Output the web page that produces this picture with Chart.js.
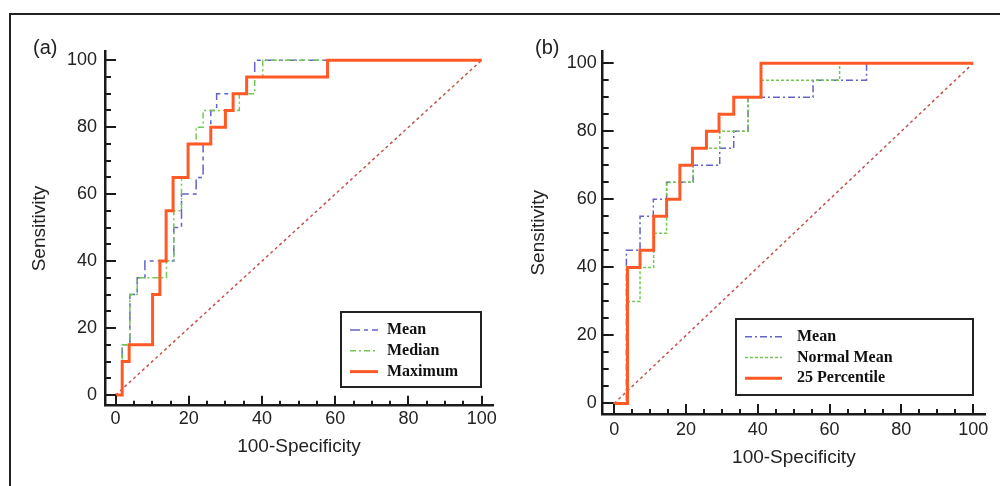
<!DOCTYPE html>
<html><head><meta charset="utf-8">
<script src="https://cdn.jsdelivr.net/npm/chart.js@4.4.0/dist/chart.umd.min.js"></script>
<style>
html,body{margin:0;padding:0;background:#fff;width:1000px;height:486px;overflow:hidden;}
#frame{position:absolute;left:9px;top:13px;width:1000px;height:500px;border-top:2.5px solid #222;border-left:2.5px solid #222;}
.panel{position:absolute;top:0;width:500px;height:486px;}
.tag{position:absolute;font:20px "Liberation Sans",Arial,sans-serif;line-height:20px;color:#222;}
</style></head><body>
<div id="frame"></div>
<div class="panel" style="left:0"><canvas id="ca" width="500" height="486" style="width:500px;height:486px"></canvas></div>
<div class="panel" style="left:500px"><canvas id="cb" width="500" height="486" style="width:500px;height:486px"></canvas></div>
<div class="tag" style="left:33px;top:37px">(a)</div>
<div class="tag" style="left:535px;top:37px">(b)</div>
<script>
// ---- tick labels ----
const majorTicks = [0, 20, 40, 60, 80, 100];
const minorTicks = [0,5,10,15,20,25,30,35,40,45,50,55,60,65,70,75,80,85,90,95,100];

// ---- panel (a): ROC step vertices (100-Specificity, Sensitivity) ----
const aMeanX   = [0,1.8,1.8,3.9,3.9,5.9,5.9,8,8,15.9,15.9,18,18,22,22,23.9,23.9,26,26,27.6,27.6,35.8,35.8,38,38,100];
const aMeanY   = [0,0,15,15,30,30,35,35,40,40,50,50,60,60,65,65,75,75,85,85,90,90,95,95,100,100];
const aMedianX = [0,1.8,1.8,3.9,3.9,5.9,5.9,13.9,13.9,15.9,15.9,18,18,19.8,19.8,22,22,23.9,23.9,33.8,33.8,38,38,40.2,40.2,100];
const aMedianY = [0,0,15,15,30,30,35,35,40,40,55,55,65,65,75,75,80,80,85,85,90,90,95,95,100,100];
const aMaxX    = [0,1.8,1.8,3.7,3.7,10.1,10.1,12.1,12.1,13.8,13.8,15.7,15.7,19.8,19.8,26,26,30,30,32.1,32.1,35.8,35.8,57.9,57.9,100];
const aMaxY    = [0,0,10,10,15,15,30,30,40,40,55,55,65,65,75,75,80,80,85,85,90,90,95,95,100,100];

// ---- panel (b) ----
const bMeanX   = [0,3.4,3.4,7.2,7.2,10.9,10.9,14.6,14.6,22,22,29.4,29.4,33.3,33.3,37.3,37.3,55.4,55.4,70.3,70.3,100];
const bMeanY   = [0,0,45,45,55,55,60,60,65,65,70,70,75,75,80,80,90,90,95,95,100,100];
const bNormX   = [0,3.7,3.7,7.2,7.2,11,11,14.6,14.6,22,22,29.4,29.4,37.3,37.3,41,41,62.8,62.8,100];
const bNormY   = [0,0,30,30,40,40,50,50,65,65,75,75,80,80,90,90,95,95,100,100];
const b25X     = [0,3.7,3.7,7.2,7.2,11,11,14.6,14.6,18.3,18.3,21.8,21.8,25.7,25.7,29.2,29.2,33.3,33.3,40.9,40.9,100];
const b25Y     = [0,0,40,40,45,45,55,55,60,60,70,70,75,75,80,80,85,85,90,90,100,100];

// ---- reference diagonal ----
const diagX = [0, 100];
const diagY = [0, 100];

const pts = (xs, ys) => xs.map((x, i) => ({x, y: ys[i]}));
const SANS = '"Liberation Sans", Arial, sans-serif';

const inTicks = {
  id: 'inTicks',
  afterDraw(chart) {
    const {ctx, chartArea: a, scales: {x, y}} = chart;
    ctx.save();
    ctx.strokeStyle = '#1a1a1a'; ctx.lineWidth = 2;
    minorTicks.forEach(v => {
      const major = majorTicks.includes(v);
      const px = Math.round(x.getPixelForValue(v));
      ctx.beginPath(); ctx.moveTo(px, a.bottom); ctx.lineTo(px, a.bottom - (major ? 10 : 5)); ctx.stroke();
      const py = Math.round(y.getPixelForValue(v));
      ctx.beginPath(); ctx.moveTo(a.left, py); ctx.lineTo(a.left + (major ? 11 : 6), py); ctx.stroke();
    });
    ctx.restore();
  }
};

const boxLegend = {
  id: 'boxLegend',
  afterDraw(chart, args, o) {
    const ctx = chart.ctx;
    ctx.save();
    ctx.fillStyle = '#fff';
    ctx.fillRect(o.x, o.y, o.w, o.h);
    ctx.lineWidth = 2; ctx.strokeStyle = '#222';
    ctx.strokeRect(o.x, o.y, o.w, o.h);
    const items = chart.data.datasets.filter(d => d.inLegend).sort((p, q) => p.inLegend - q.inLegend);
    items.forEach((d, i) => {
      const yy = o.y + o.row0 + i * o.gap;
      ctx.beginPath();
      ctx.setLineDash(d.borderDash || []);
      ctx.strokeStyle = d.borderColor; ctx.lineWidth = d.borderWidth;
      ctx.moveTo(o.x + o.sx0, yy); ctx.lineTo(o.x + o.sx1, yy); ctx.stroke();
      ctx.setLineDash([]);
      ctx.fillStyle = '#111';
      ctx.font = 'bold 16px "Liberation Serif", "Times New Roman", serif';
      ctx.textBaseline = 'middle'; ctx.textAlign = 'left';
      ctx.fillText(d.label, o.x + o.tx, yy);
    });
    ctx.restore();
  }
};

function axis(c, horiz) {
  return {
    type: 'linear',
    min: horiz ? c.xMin : c.yMin,
    max: horiz ? c.xMax : c.yMax,
    afterBuildTicks: s => { s.ticks = majorTicks.map(v => ({value: v})); },
    afterFit: s => {
      if (horiz) s.height = c.xH; else s.width = c.yW;
      s.paddingLeft = 0; s.paddingRight = 0; s.paddingTop = 0; s.paddingBottom = 0;
    },
    grid: {display: false, drawTicks: false},
    border: {display: true, color: '#1a1a1a', width: 2.5},
    ticks: {font: {family: SANS, size: 18}, color: '#222', padding: horiz ? c.xPad : c.yPad,
            maxRotation: 0, autoSkip: false},
    title: {display: true, text: horiz ? '100-Specificity' : 'Sensitivity',
            font: {family: SANS, size: 19}, color: '#222', padding: 0}
  };
}

function makeChart(id, c, datasets) {
  return new Chart(document.getElementById(id), {
    type: 'line',
    data: {datasets},
    options: {
      responsive: false, animation: false, events: [],
      layout: {padding: {left: c.padL, right: c.padR, top: c.padT, bottom: c.padB}},
      elements: {point: {radius: 0}, line: {tension: 0}},
      plugins: {legend: {display: false}, tooltip: {enabled: false}, boxLegend: c.legend},
      scales: {x: axis(c, true), y: axis(c, false)}
    },
    plugins: [inTicks, boxLegend]
  });
}

const BLUE = '#6262c9', GREEN = '#72c850', ORANGE = '#ff5a26', DIAG = '#c2524c';

makeChart('ca', {
  xMin: -2.9, xMax: 103.1, yMin: -3.2, yMax: 102.6,
  padL: 28.5, padR: 7, padT: 51.5, padB: 28.3, yW: 76.5, xH: 52, xPad: 3, yPad: 8,
  legend: {x: 341, y: 312, w: 140, h: 75, row0: 18, gap: 20.8, sx0: 9, sx1: 37, tx: 46}
}, [
  {label: 'Mean', data: pts(aMeanX, aMeanY), borderColor: BLUE, borderWidth: 1.5, borderDash: [10, 4, 4, 4], order: 2, inLegend: 1},
  {label: 'Median', data: pts(aMedianX, aMedianY), borderColor: GREEN, borderWidth: 1.5, borderDash: [6, 3, 2, 3], order: 1, inLegend: 2},
  {label: 'Maximum', data: pts(aMaxX, aMaxY), borderColor: ORANGE, borderWidth: 3, order: 0, inLegend: 3},
  {label: 'Reference', data: pts(diagX, diagY), borderColor: DIAG, borderWidth: 1.5, borderDash: [3, 3], order: 3}
]);

makeChart('cb', {
  xMin: -3.2, xMax: 103.3, yMin: -3.1, yMax: 103.4,
  padL: 27.5, padR: 15, padT: 51.7, padB: 17.2, yW: 75.2, xH: 54.8, xPad: 5, yPad: 6,
  legend: {x: 236, y: 319, w: 237, h: 76, row0: 17.7, gap: 20.8, sx0: 9, sx1: 46, tx: 61}
}, [
  {label: 'Mean', data: pts(bMeanX, bMeanY), borderColor: BLUE, borderWidth: 1.5, borderDash: [7, 3, 2, 3], order: 2, inLegend: 1},
  {label: 'Normal Mean', data: pts(bNormX, bNormY), borderColor: GREEN, borderWidth: 1.5, borderDash: [3, 2], order: 1, inLegend: 2},
  {label: '25 Percentile', data: pts(b25X, b25Y), borderColor: ORANGE, borderWidth: 3, order: 0, inLegend: 3},
  {label: 'Reference', data: pts(diagX, diagY), borderColor: DIAG, borderWidth: 1.5, borderDash: [3, 3], order: 3}
]);
</script>
</body></html>
